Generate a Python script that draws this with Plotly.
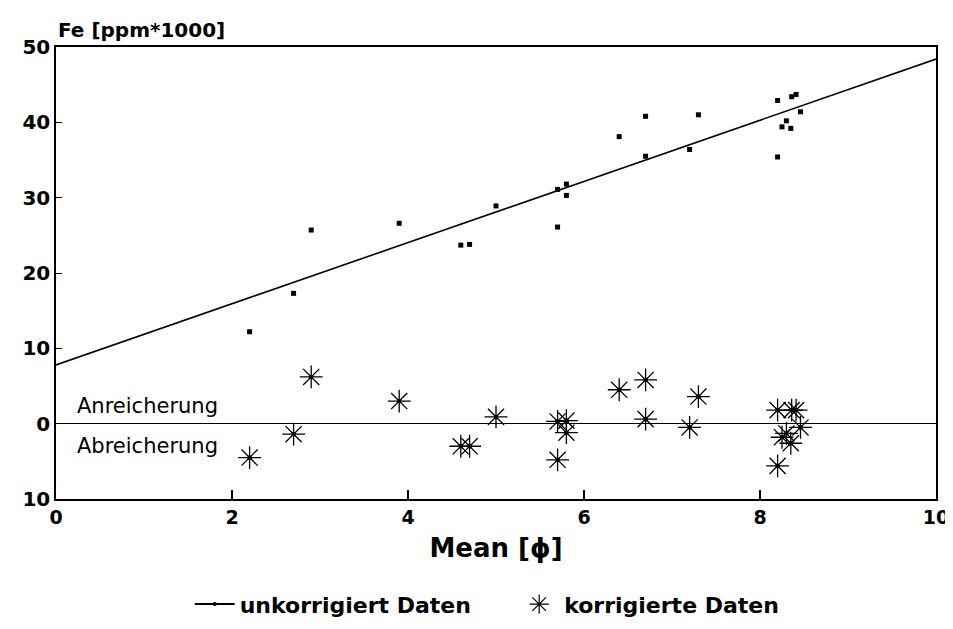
import plotly.graph_objects as go

# Mean grain size [phi]
mean_phi = [2.2, 2.7, 2.9, 3.9, 4.6, 4.7, 5.0, 5.7, 5.7, 5.8, 5.8, 6.4,
            6.7, 6.7, 7.2, 7.3, 8.2, 8.2, 8.25, 8.3, 8.35, 8.36, 8.41, 8.46]
# Fe uncorrected [ppm*1000]
fe_raw = [12.2, 17.3, 25.7, 26.6, 23.7, 23.8, 28.9, 26.1, 31.1, 31.8, 30.3, 38.1,
          40.8, 35.5, 36.4, 41.0, 42.9, 35.4, 39.4, 40.2, 39.2, 43.4, 43.7, 41.4]
# Fe corrected (residuals)
fe_corr = [-4.5, -1.4, 6.2, 3.0, -3.0, -3.0, 0.9, -4.8, 0.3, 0.4, -1.2, 4.5,
           5.8, 0.6, -0.5, 3.6, 1.8, -5.6, -1.8, -1.3, -2.6, 1.8, 1.8, -0.5]
# regression line endpoints
line_x = [0, 10]
line_y = [7.8, 48.4]

y_tickvals = [50, 40, 30, 20, 10, 0, -10]
y_ticktext = ["50", "40", "30", "20", "10", "0", "10"]
x_tickvals = [0, 2, 4, 6, 8, 10]
x_ticktext = ["0", "2", "4", "6", "8", "10"]

FONT = "DejaVu Sans, Liberation Sans, sans-serif"

fig = go.Figure()
fig.add_trace(go.Scatter(x=line_x, y=line_y, mode="lines",
                         line=dict(color="black", width=1.6),
                         showlegend=False, hoverinfo="skip"))
fig.add_trace(go.Scatter(x=mean_phi, y=fe_raw, mode="markers",
                         marker=dict(symbol="square", size=5, color="black"),
                         showlegend=False))
fig.add_trace(go.Scatter(x=mean_phi, y=fe_corr, mode="markers",
                         marker=dict(symbol="asterisk-open", size=19, color="black",
                                     line=dict(color="black", width=1.3)),
                         showlegend=False))
fig.add_trace(go.Scatter(x=mean_phi, y=fe_corr, mode="markers",
                         marker=dict(symbol="square", size=4, color="black"),
                         showlegend=False))
# legend entries
fig.add_trace(go.Scatter(x=[None], y=[None], mode="lines+markers",
                         name="unkorrigiert Daten" + "\u00a0" * 5,
                         line=dict(color="black", width=2),
                         marker=dict(symbol="circle", size=4, color="black")))
fig.add_trace(go.Scatter(x=[None], y=[None], mode="markers",
                         name="korrigierte Daten",
                         marker=dict(symbol="asterisk-open", size=16, color="black",
                                     line=dict(color="black", width=1.2))))

fig.update_layout(
    width=953, height=629,
    margin=dict(l=48, r=20, t=39, b=127),
    paper_bgcolor="white", plot_bgcolor="white",
    font=dict(family=FONT, color="black"),
    showlegend=True,
    legend=dict(orientation="h", x=0.49, xanchor="center", y=-0.233, yanchor="middle",
                font=dict(family=FONT, size=22, color="black", weight="bold"),
                itemwidth=40, tracegroupgap=0, bgcolor="rgba(0,0,0,0)"),
    xaxis=dict(range=[0, 10], tickvals=x_tickvals, ticktext=x_ticktext,
               showgrid=False, zeroline=False, showline=True, mirror=True,
               linecolor="black", linewidth=1.5,
               ticks="inside", ticklen=9, tickwidth=1.5, tickcolor="black",
               tickfont=dict(family=FONT, size=19, color="black", weight="bold"),
               title=dict(text="Mean [ϕ]", standoff=12,
                          font=dict(family=FONT, size=26, color="black", weight="bold"))),
    yaxis=dict(range=[-10, 50], tickvals=y_tickvals, ticktext=y_ticktext,
               showgrid=False, zeroline=True, zerolinecolor="black", zerolinewidth=1.2,
               showline=True, mirror=True, linecolor="black", linewidth=1.5,
               ticks="inside", ticklen=6, tickwidth=1, tickcolor="black",
               tickfont=dict(family=FONT, size=20, color="black", weight="bold")),
    annotations=[
        dict(text="Fe [ppm*1000]", xref="paper", yref="paper", x=0, y=1,
             xanchor="left", yanchor="bottom", yshift=3, showarrow=False,
             font=dict(family=FONT, size=20, color="black", weight="bold")),
        dict(text="Anreicherung", xref="x", yref="y", x=0.22, y=2.3,
             xanchor="left", yanchor="middle", showarrow=False,
             font=dict(family=FONT, size=21, color="black")),
        dict(text="Abreicherung", xref="x", yref="y", x=0.22, y=-2.9,
             xanchor="left", yanchor="middle", showarrow=False,
             font=dict(family=FONT, size=21, color="black")),
    ],
)

fig.write_html("out.html")
